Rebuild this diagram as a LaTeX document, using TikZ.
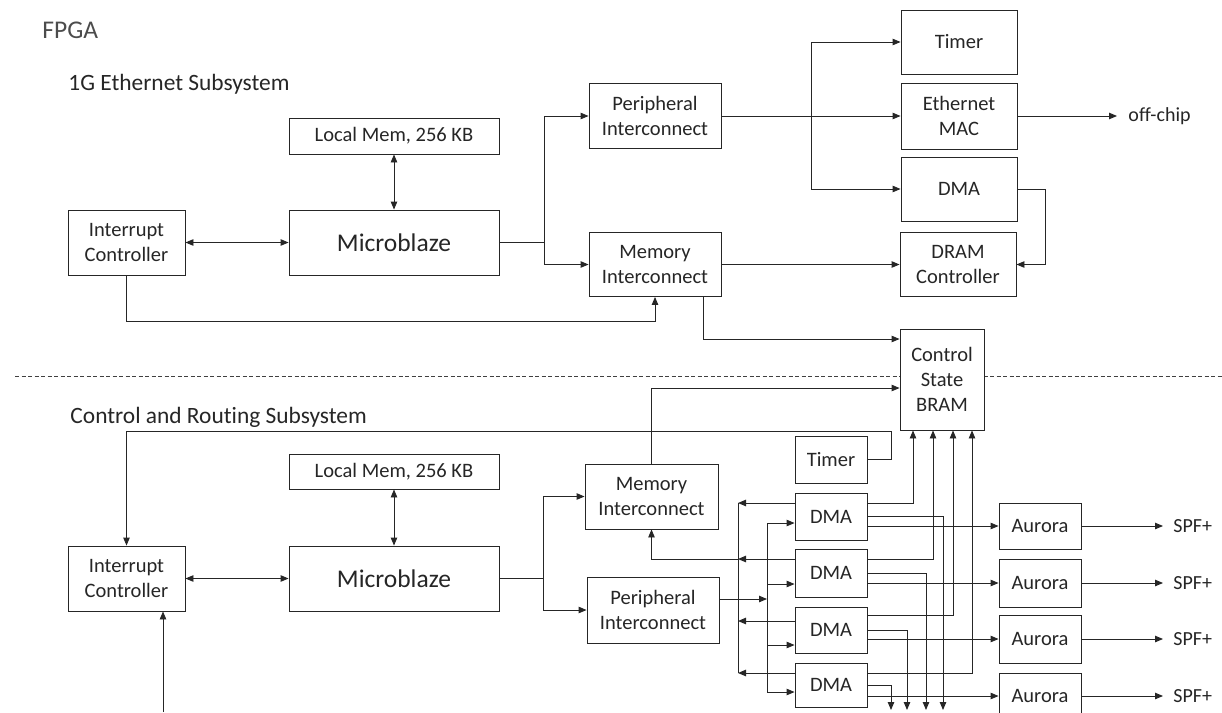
\documentclass[tikz,border=0pt]{standalone}
\usepackage{fontspec}
\setmainfont{Carlito}[Ligatures={NoCommon}]
\usetikzlibrary{arrows.meta}
\begin{document}
\begin{tikzpicture}[x=1pt,y=-1pt,
  >={Triangle[length=8pt,width=6.5pt]},
  line width=0.9pt, draw=black!85,
  box/.style={draw=black!85, fill=white, inner sep=0pt, align=center,
    font=\fontsize{20.5}{25}\selectfont, text=black!85},
  big/.style={font=\fontsize{25.5}{30}\selectfont},
  lbl/.style={inner sep=0pt, anchor=west, font=\fontsize{20}{24}\selectfont, text=black!85},
  ttl/.style={inner sep=0pt, anchor=base west, font=\fontsize{23.4}{28}\selectfont, text=black!85},
]
\useasboundingbox (0,0) rectangle (1222,712);
\clip (0,0) rectangle (1222,712);

% titles
\node[inner sep=0pt, anchor=base west, font=\fontsize{25.5}{30}\selectfont, text=black!70] (fpga) at (42,38) {FPGA};
\node[ttl] (t1) at (68,90) {1G Ethernet Subsystem};
\node[ttl] (t2) at (70,423) {Control and Routing Subsystem};

% separator
\draw[dash pattern=on 4pt off 2.5pt, line width=0.7pt, draw=black!75] (15,376.5) -- (1222,376.5);

% ---------- 1G Ethernet subsystem ----------
\node[box, minimum width=210pt, minimum height=36pt] (lm1) at (394,136) {Local Mem, 256 KB};
\node[box, big, minimum width=210pt, minimum height=65pt] (mb1) at (394,242.5) {Microblaze};
\node[box, minimum width=117pt, minimum height=65pt] (ic1) at (126.5,242.5) {Interrupt\\Controller};
\node[box, minimum width=132pt, minimum height=65pt] (pi1) at (655,116) {Peripheral\\Interconnect};
\node[box, minimum width=132pt, minimum height=64pt] (mi1) at (655,264.5) {Memory\\Interconnect};
\node[box, minimum width=116pt, minimum height=64pt] (tm1) at (959,42) {Timer};
\node[box, minimum width=116pt, minimum height=66pt] (mac) at (959,116) {Ethernet\\MAC};
\node[box, minimum width=116pt, minimum height=64pt] (dma0) at (959,189) {DMA};
\node[box, minimum width=116pt, minimum height=64pt] (dram) at (958,264.5) {DRAM\\Controller};
\node[box, minimum width=84pt, minimum height=101pt] (bram) at (942,379.5) {Control\\State\\BRAM};
\node[lbl] (oc) at (1128,116) {off-chip};

\draw[<->] (ic1) -- (mb1);
\draw[<->] (lm1) -- (mb1);
\coordinate (b1) at (544,242.5);
\draw (mb1.east) -- (b1);
\draw[->] (b1) |- (pi1.west);
\draw[->] (b1) |- (mi1.west);
\coordinate (b2) at (811,116);
\draw (pi1.east) -- (b2);
\draw[->] (b2) |- (tm1.west);
\draw[->] (b2) -- (mac.west);
\draw[->] (b2) |- (dma0.west);
\draw[->] (mac.east) -- ([xshift=-11pt]oc.west);
\draw[->] (dma0.east) -- ++(28,0) |- (dram.east);
\draw[->] (mi1.east) -- (dram.west);
\draw[->] (ic1.south) |- (655,321) -- (mi1.south);
\draw[->] ([xshift=48pt]mi1.south) |- ([yshift=40.5pt]bram.west);

% ---------- Control and routing subsystem ----------
\node[box, minimum width=210pt, minimum height=35pt] (lm2) at (394,471.5) {Local Mem, 256 KB};
\node[box, big, minimum width=210pt, minimum height=65pt] (mb2) at (394,578.5) {Microblaze};
\node[box, minimum width=117pt, minimum height=65pt] (ic2) at (126.5,578.5) {Interrupt\\Controller};
\node[box, minimum width=133pt, minimum height=65pt] (mi2) at (651.5,496.5) {Memory\\Interconnect};
\node[box, minimum width=132pt, minimum height=66pt] (pi2) at (653,610) {Peripheral\\Interconnect};
\node[box, minimum width=72pt, minimum height=47pt] (tm2) at (831,459.5) {Timer};
\node[box, minimum width=72pt, minimum height=47pt] (d1) at (831,516.5) {DMA};
\node[box, minimum width=72pt, minimum height=48pt] (d2) at (831,573) {DMA};
\node[box, minimum width=72pt, minimum height=46pt] (d3) at (831,630) {DMA};
\node[box, minimum width=72pt, minimum height=44pt] (d4) at (831,685) {DMA};
\node[box, minimum width=82pt, minimum height=46pt] (au1) at (1040,526) {Aurora};
\node[box, minimum width=82pt, minimum height=48pt] (au2) at (1040,583) {Aurora};
\node[box, minimum width=82pt, minimum height=48pt] (au3) at (1040,639) {Aurora};
\node[box, minimum width=82pt, minimum height=46pt] (au4) at (1040,696) {Aurora};
\node[lbl] (s1) at (1173,526) {SPF+};
\node[lbl] (s2) at (1173,583) {SPF+};
\node[lbl] (s3) at (1173,639) {SPF+};
\node[lbl] (s4) at (1173,696) {SPF+};

\draw[<->] (ic2) -- (mb2);
\draw[<->] (lm2) -- (mb2);
\coordinate (b3) at (543,578.5);
\draw (mb2.east) -- (b3);
\draw[->] (b3) |- (mi2.west);
\draw[->] (b3) |- (pi2.west);
\draw[->] (mi2.north) |- ([yshift=-8.5pt]bram.west);
\draw[->] (tm2.east) -- ++(24,0) |- (126.5,431) -- (ic2.north);
\coordinate (icin) at (163,712);
\draw[->] (icin) -- (icin |- ic2.south);

% buses
\coordinate (blT) at (738,503);
\coordinate (blB) at (738,673);
\coordinate (brT) at (767,523);
\coordinate (brB) at (767,692);
\draw (blT) -- (blB);
\draw (brT) -- (brB);
\draw[->] ([yshift=11pt]pi2.east) -- (767,599);

% DMA 1
\draw[->] ([yshift=13.5pt]d1.west) -- (blT);
\draw[->] ([yshift=13.5pt]d1.east) -| ([xshift=-29pt]bram.south);
\draw[->] (d1.east) -| (943,710);
\draw[->] ([yshift=-9.5pt]d1.east) -- (au1.west);
\draw[->] (brT) -- ([yshift=-6.5pt]d1.west);
% DMA 2
\draw[->] ([yshift=14pt]d2.west) -- (738,559);
\draw[->] (738,559) -| (mi2.south);
\draw[->] ([yshift=14pt]d2.east) -| ([xshift=-9pt]bram.south);
\draw[->] (d2.east) -| (926,710);
\draw[->] ([yshift=-10pt]d2.east) -- (au2.west);
\draw[->] (767,584) -- ([yshift=-11pt]d2.west);
% DMA 3
\draw[->] ([yshift=9pt]d3.west) -- (738,621);
\draw[->] ([yshift=15pt]d3.east) -| ([xshift=11pt]bram.south);
\draw[->] (d3.east) -| (907,710);
\draw[->] ([yshift=-9pt]d3.east) -- (au3.west);
\draw[->] (767,645) -- ([yshift=-15pt]d3.west);
% DMA 4
\draw[->] ([yshift=12pt]d4.west) -- (blB);
\draw[->] ([yshift=12pt]d4.east) -| ([xshift=30pt]bram.south);
\draw[->] (d4.east) -| (891,710);
\draw[->] ([yshift=-11pt]d4.east) -- (au4.west);
\draw[->] (brB) -- ([yshift=-7pt]d4.west);

% outputs
\draw[->] (au1.east) -- ([xshift=-10pt]s1.west);
\draw[->] (au2.east) -- ([xshift=-10pt]s2.west);
\draw[->] (au3.east) -- ([xshift=-10pt]s3.west);
\draw[->] (au4.east) -- ([xshift=-10pt]s4.west);
\end{tikzpicture}
\end{document}
